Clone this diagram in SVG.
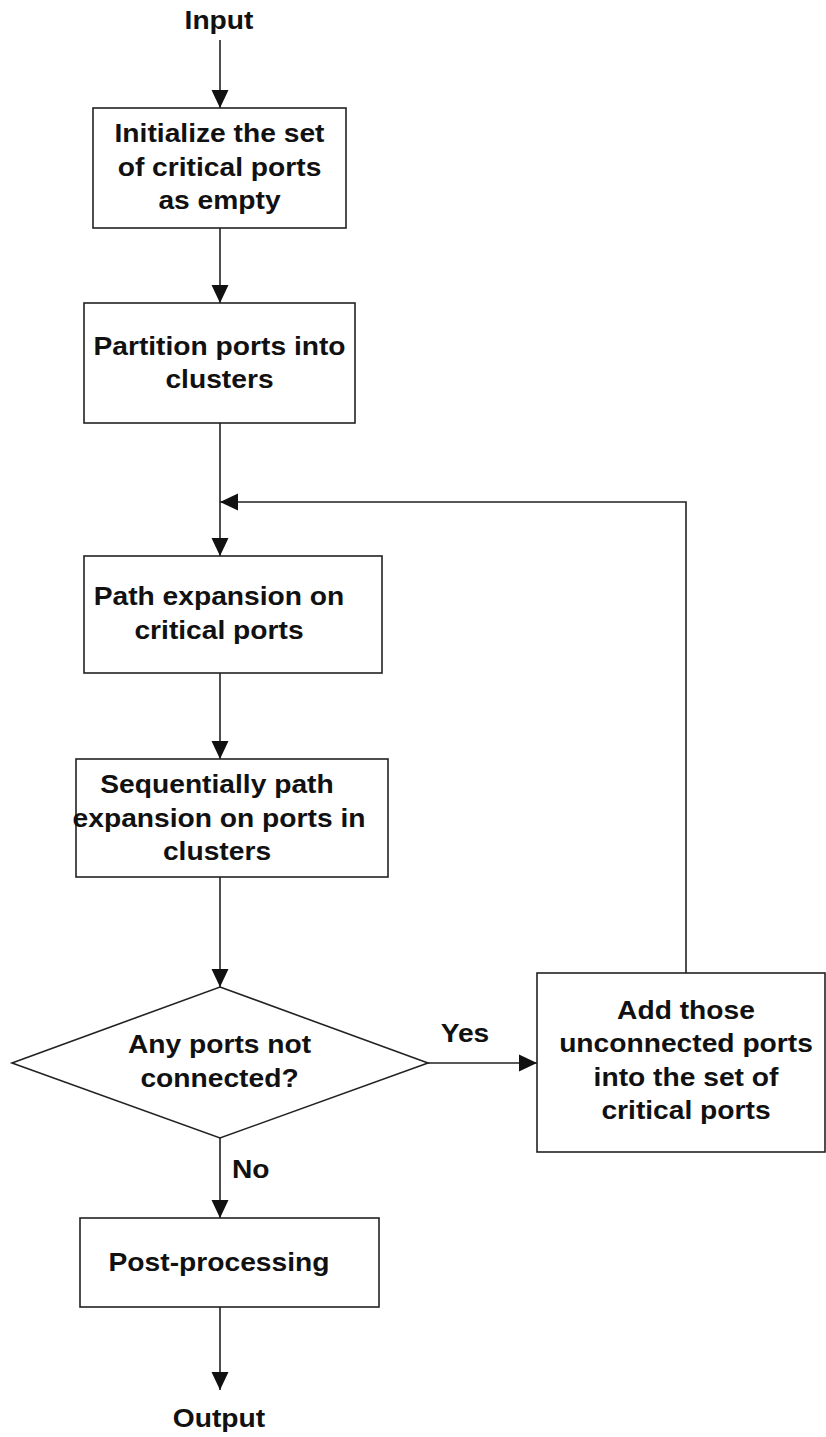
<svg xmlns="http://www.w3.org/2000/svg" width="826" height="1437" viewBox="0 0 826 1437">
  <defs>
    <style>
      .box { fill: #ffffff; stroke: #222; stroke-width: 1.6; }
      .wire { fill: none; stroke: #222; stroke-width: 1.6; }
      .lbl { font-family: "Liberation Sans", Arial, sans-serif; font-weight: bold; font-size: 26px; fill: #111; text-anchor: middle; }
      .lbl-l { text-anchor: start; }
    </style>
    <marker id="arrow" markerUnits="userSpaceOnUse" markerWidth="18" markerHeight="18" viewBox="0 0 18 17" refX="18" refY="8.5" orient="auto">
      <path d="M0,0 L18,8.5 L0,17 Z" fill="#111"/>
    </marker>
  </defs>
  <rect width="826" height="1437" fill="#ffffff"/>

  <!-- connectors -->
  <g id="connectors">
    <line class="wire" x1="220" y1="40" x2="220" y2="108" marker-end="url(#arrow)"/>
    <line class="wire" x1="220" y1="228" x2="220" y2="303" marker-end="url(#arrow)"/>
    <line class="wire" x1="220" y1="423" x2="220" y2="556" marker-end="url(#arrow)"/>
    <polyline class="wire" points="686,973 686,502 220,502" marker-end="url(#arrow)"/>
    <line class="wire" x1="220" y1="673" x2="220" y2="759" marker-end="url(#arrow)"/>
    <line class="wire" x1="220" y1="877" x2="220" y2="987" marker-end="url(#arrow)"/>
    <line class="wire" x1="428" y1="1063" x2="537" y2="1063" marker-end="url(#arrow)"/>
    <line class="wire" x1="220" y1="1138" x2="220" y2="1218" marker-end="url(#arrow)"/>
    <line class="wire" x1="220" y1="1307" x2="220" y2="1390" marker-end="url(#arrow)"/>
    <text class="lbl" transform="translate(465 1042) scale(1.085 1)">Yes</text>
    <text class="lbl lbl-l" transform="translate(232 1178) scale(1.085 1)">No</text>
  </g>

  <g id="input">
    <text class="lbl" transform="translate(219 29) scale(1.085 1)">Input</text>
  </g>

  <g id="init">
    <rect class="box" x="93" y="108" width="253" height="120"/>
    <text class="lbl" transform="translate(219.5 142) scale(1.085 1)">Initialize the set</text>
    <text class="lbl" transform="translate(219.5 175.5) scale(1.085 1)">of critical ports</text>
    <text class="lbl" transform="translate(219.5 209) scale(1.085 1)">as empty</text>
  </g>

  <g id="partition">
    <rect class="box" x="84" y="303" width="271" height="120"/>
    <text class="lbl" transform="translate(219.5 355) scale(1.085 1)">Partition ports into</text>
    <text class="lbl" transform="translate(219.5 388) scale(1.085 1)">clusters</text>
  </g>

  <g id="critical-expansion">
    <rect class="box" x="84" y="556" width="298" height="117"/>
    <text class="lbl" transform="translate(219 605) scale(1.085 1)">Path expansion on</text>
    <text class="lbl" transform="translate(219 639) scale(1.085 1)">critical ports</text>
  </g>

  <g id="cluster-expansion">
    <rect class="box" x="76" y="759" width="312" height="118"/>
    <text class="lbl" transform="translate(217 793) scale(1.085 1)">Sequentially path</text>
    <text class="lbl" transform="translate(219 827) scale(1.085 1)">expansion on ports in</text>
    <text class="lbl" transform="translate(217 860) scale(1.085 1)">clusters</text>
  </g>

  <g id="decision">
    <polygon class="box" points="220,987 428,1063 220,1138 12,1063"/>
    <text class="lbl" transform="translate(219.5 1053) scale(1.085 1)">Any ports not</text>
    <text class="lbl" transform="translate(219.5 1087) scale(1.085 1)">connected?</text>
  </g>

  <g id="add-critical">
    <rect class="box" x="537" y="973" width="288" height="179"/>
    <text class="lbl" transform="translate(686 1019) scale(1.085 1)">Add those</text>
    <text class="lbl" transform="translate(686 1052) scale(1.085 1)">unconnected ports</text>
    <text class="lbl" transform="translate(686 1086) scale(1.085 1)">into the set of</text>
    <text class="lbl" transform="translate(686 1119) scale(1.085 1)">critical ports</text>
  </g>

  <g id="post">
    <rect class="box" x="80" y="1218" width="299" height="89"/>
    <text class="lbl" transform="translate(219 1271) scale(1.085 1)">Post-processing</text>
  </g>

  <g id="output">
    <text class="lbl" transform="translate(219 1427) scale(1.085 1)">Output</text>
  </g>
</svg>
